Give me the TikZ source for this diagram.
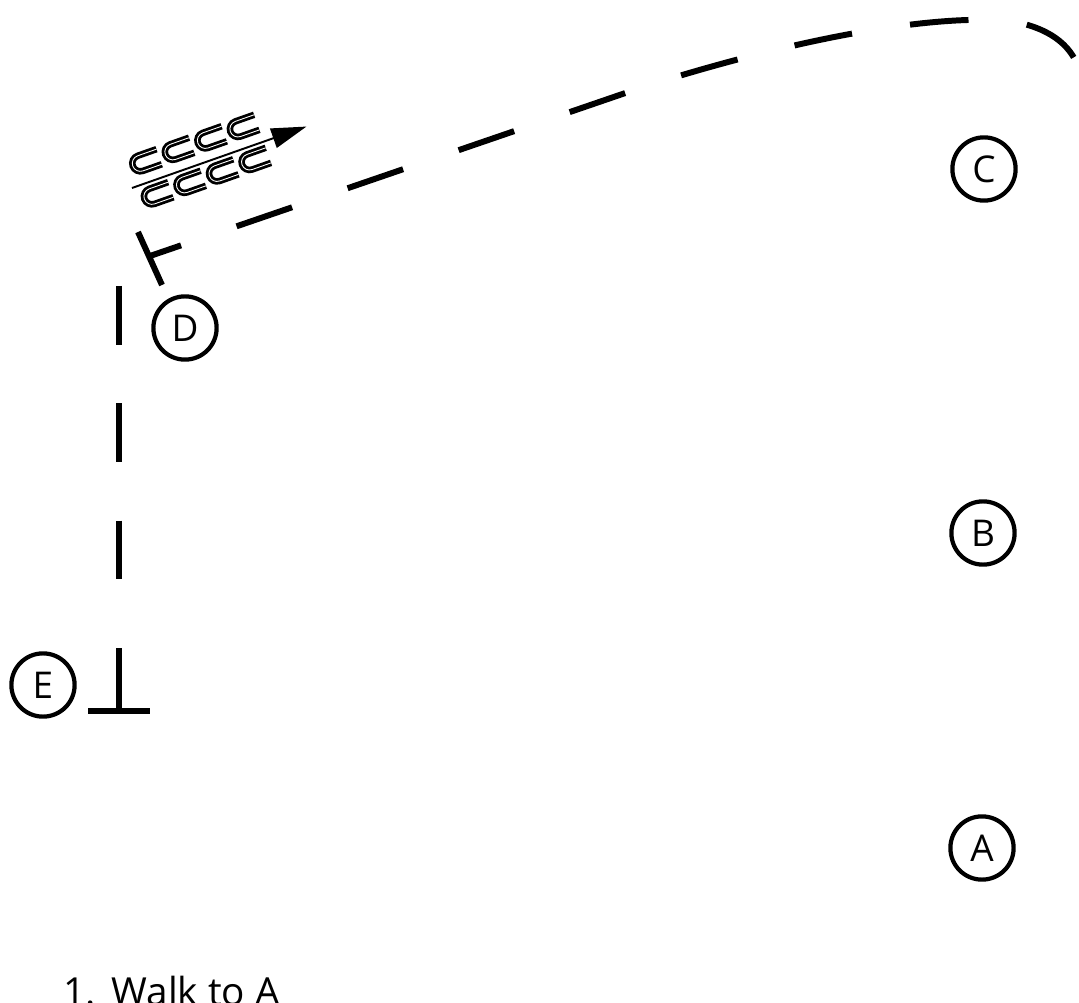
\documentclass[tikz,border=0pt]{standalone}
\usepackage{fontspec}
\setmainfont{Open Sans}
\usetikzlibrary{arrows.meta}

\tikzset{
  route/.style={line width=3.4pt, dash pattern=on 33.4pt off 33.4pt},
  endbar/.style={line width=3.4pt},
  station/.style={circle, draw, line width=2.4pt, minimum size=36pt, inner sep=0pt,
    font=\fontsize{21}{24}\selectfont},
  wave/.style={line width=1.6pt, double=white, double distance=0.5pt},
}

\begin{document}
\begin{tikzpicture}[x=0.02cm, y=-0.02cm, >=Stealth]
    \useasboundingbox (0,0) rectangle (1079,1003);

    % ========== STATIONS ==========
    \node[station] (C) at (984,169) {C};
    \node[station] (B) at (983,533) {B};
    \node[station] (A) at (982,848) {A};
    \node[station] (D) at (185,328) {D};
    \node[station] (E) at (43,685) {E};

    % ========== START MARKER AT E ==========
    \coordinate (estem) at (119,648);
    \coordinate (efoot) at (119,711);
    \draw[endbar] (estem) -- (efoot);
    \draw[endbar] (88,711) -- (150,711);

    % Leg up to D
    \draw[route] (119,286) -- (119,590);

    % ========== TURN MARKER AT D ==========
    \draw[endbar] (138,232) -- (162,285);

    % Leg towards the top corner
    \coordinate (dstub) at (150,256);
    \draw[route, dash phase=14.7pt] (dstub) -- (640,88)
        .. controls (835,26) and (962,14) .. (1016,22)
        .. controls (1054,30) and (1073,48) .. (1080,72);

    % ========== DIRECTION CUE ==========
    \begin{scope}[shift={(132,188)}, rotate=19.4]
        \draw[line width=1.1pt, -{Triangle[length=20pt, width=11.5pt]}] (0,0) -- (185,0);
        \foreach \i in {0,...,3} {
            \draw[wave] (22+34.5*\i+14,-28.5) -- (22+34.5*\i-6,-28.5)
                arc[start angle=270, end angle=90, radius=8] -- (22+34.5*\i+14,-12.5);
            \draw[wave] (22+34.5*\i+14,6.5) -- (22+34.5*\i-6,6.5)
                arc[start angle=270, end angle=90, radius=8] -- (22+34.5*\i+14,22.5);
        }
    \end{scope}

    % Step list
    \node[anchor=base west, font=\fontsize{22}{26}\selectfont, inner sep=0pt] (step1)
        at (63,1005) {1.\hspace{9pt}Walk to A};

\end{tikzpicture}
\end{document}
